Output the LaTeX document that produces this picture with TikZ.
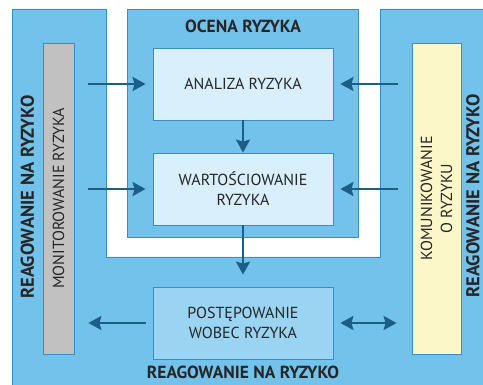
\documentclass[tikz,border=0pt]{standalone}
\usepackage{fontspec}
\setmainfont{PT Sans}
\usetikzlibrary{arrows.meta}
\definecolor{tlo}{HTML}{72C2EB}
\definecolor{obrys}{HTML}{3B8DC0}
\definecolor{jasny}{HTML}{D9EFFB}
\definecolor{sredni}{HTML}{9AD4F2}
\definecolor{szary}{HTML}{C1C1C1}
\definecolor{zolty}{HTML}{FBF7C9}
\definecolor{strzalka}{HTML}{1C5E86}
\begin{document}
\begin{tikzpicture}[x=1pt,y=-1pt,font=\fontsize{16}{20}\selectfont,text=black!85,
	etap/.style={draw=obrys,line width=0.8pt,fill=jasny,minimum width=180pt,minimum height=72pt,align=center,inner sep=0pt},
	pasek/.style={draw=obrys,line width=0.8pt,rotate=90,minimum width=311pt,align=center,inner sep=0pt},
	tytul/.style={font=\fontsize{17.5}{20}\selectfont\bfseries,inner sep=1pt},
	boczny/.style={tytul,rotate=90,font=\fontsize{18.5}{20}\selectfont\bfseries},
	arr/.style={draw=strzalka,line width=2.3pt,-{Stealth[length=13pt,width=14pt,inset=2pt]}}]
	\useasboundingbox (0,0) rectangle (483,385);
	\fill[white] (0,0) rectangle (483,385);
	% tlo
	\draw[obrys,line width=0.8pt,fill=tlo] (12,9)--(106,9)--(106,257)--(380,257)--(380,9)--(490,9)--(490,390)--(12,390)--cycle;
	\draw[obrys,line width=0.8pt,fill=tlo] (127,9) rectangle (358,237);
	% etapy
	\node[etap] (ana) at (243,84) {ANALIZA RYZYKA};
	\node[etap] (war) at (243,189) {WARTOŚCIOWANIE\\RYZYKA};
	\node[etap,fill=sredni] (pos) at (243,323) {POSTĘPOWANIE\\WOBEC RYZYKA};
	\node[pasek,fill=szary,minimum height=31pt] (mon) at (58.5,198.5) {MONITOROWANIE RYZYKA};
	\node[pasek,fill=zolty,minimum height=49pt] (kom) at (436.5,198.5) {KOMUNIKOWANIE\\O RYZYKU};
	% napisy
	\node[tytul] (ocena) at (243,26) {OCENA RYZYKA};
	\node[tytul] (reagD) at (243,372) {REAGOWANIE NA RYZYKO};
	\node[boczny] (reagL) at (27.5,197) {REAGOWANIE NA RYZYKO};
	\node[boczny] (reagP) at (473,196) {REAGOWANIE NA RYZYKO};
	% strzalki
	\draw[arr,shorten <=14pt,shorten >=7pt] (mon.south |- ana.west) -- (ana.west);
	\draw[arr,shorten <=14pt,shorten >=7pt] (mon.south |- war.west) -- (war.west);
	\draw[arr,shorten <=14pt,shorten >=7pt] (kom.north |- ana.east) -- (ana.east);
	\draw[arr,shorten <=14pt,shorten >=7pt] (kom.north |- war.east) -- (war.east);
	\draw[arr] (ana.south) -- (war.north);
	\draw[arr,shorten >=12pt] (war.south) -- (pos.north);
	\draw[arr,shorten <=7pt,shorten >=14pt] (pos.west) -- (mon.south |- pos.west);
	\draw[arr,{Stealth[length=13pt,width=14pt,inset=2pt]}-{Stealth[length=13pt,width=14pt,inset=2pt]},shorten <=7pt,shorten >=15pt] (pos.east) -- (kom.north |- pos.east);
\end{tikzpicture}
\end{document}
